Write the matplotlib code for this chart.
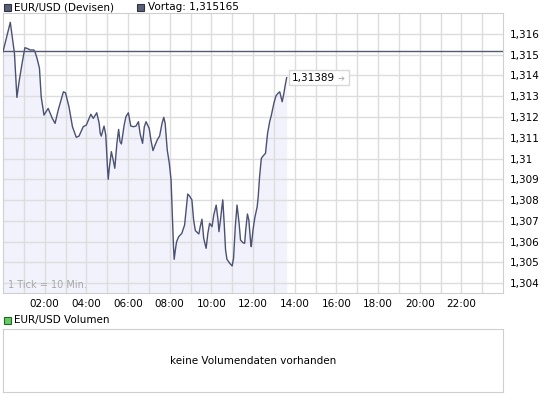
import matplotlib.pyplot as plt
import matplotlib.patches as patches

# Kursdaten EUR/USD (Minuten seit 00:00, Kurs)
minuten = [0, 21, 33, 40, 47, 55, 63, 69, 79, 89, 92, 98, 105, 110, 118, 130, 142, 150,
           159, 174, 180, 190, 200, 211, 219, 231, 240, 253, 260, 270, 277, 280, 283,
           291, 296, 301, 303, 306, 312, 317, 322, 328, 333, 337, 341, 349, 354, 361,
           368, 376, 383, 390, 395, 402, 407, 412, 421, 426, 432, 438, 445, 451, 458,
           463, 467, 473, 479, 484, 487, 489, 491, 493, 497, 500, 506, 515, 523, 527,
           532, 537, 544, 549, 554, 564, 568, 573, 578, 585, 590, 595, 602, 607, 614,
           619, 622, 627, 630, 633, 637, 641, 645, 653, 660, 664, 669, 674, 680, 684,
           691, 696, 699, 704, 708, 713, 715, 720, 725, 732, 735, 739, 744, 749, 756,
           762, 768, 773, 780, 786, 792, 797, 804, 809, 812, 817]
kurs = [1.31514, 1.31655, 1.31506, 1.31294, 1.31377, 1.31458, 1.31533, 1.31530, 1.31522,
        1.31522, 1.31514, 1.31482, 1.31434, 1.31297, 1.31209, 1.31241, 1.31193, 1.31169,
        1.31233, 1.31321, 1.31316, 1.31249, 1.31153, 1.31102, 1.31108, 1.31153, 1.31161,
        1.31213, 1.31193, 1.31220, 1.31169, 1.31121, 1.31108, 1.31156, 1.31113, 1.30953,
        1.30900, 1.30953, 1.31033, 1.30996, 1.30953, 1.31073, 1.31140, 1.31081, 1.31070,
        1.31161, 1.31201, 1.31220, 1.31156, 1.31153, 1.31156, 1.31177, 1.31118, 1.31073,
        1.31153, 1.31177, 1.31145, 1.31089, 1.31038, 1.31065, 1.31092, 1.31108, 1.31169,
        1.31198, 1.31169, 1.31041, 1.30977, 1.30897, 1.30761, 1.30672, 1.30576, 1.30515,
        1.30568, 1.30600, 1.30624, 1.30640, 1.30680, 1.30744, 1.30829, 1.30820, 1.30801,
        1.30704, 1.30653, 1.30637, 1.30672, 1.30708, 1.30616, 1.30568, 1.30640, 1.30688,
        1.30672, 1.30728, 1.30776, 1.30708, 1.30648, 1.30713, 1.30761, 1.30801, 1.30688,
        1.30560, 1.30515, 1.30496, 1.30483, 1.30520, 1.30672, 1.30776, 1.30688, 1.30608,
        1.30595, 1.30592, 1.30656, 1.30733, 1.30704, 1.30600, 1.30576, 1.30656, 1.30713,
        1.30768, 1.30816, 1.30913, 1.31001, 1.31012, 1.31025, 1.31121, 1.31177, 1.31209,
        1.31265, 1.31301, 1.31314, 1.31321, 1.31273, 1.31314, 1.31345, 1.31389]

vortag = 1.315165
letzter_kurs = "1,31389"

y_ticks = [1.304, 1.305, 1.306, 1.307, 1.308, 1.309, 1.310, 1.311, 1.312, 1.313, 1.314, 1.315, 1.316]
y_labels = ["1,304", "1,305", "1,306", "1,307", "1,308", "1,309", "1,31",
            "1,311", "1,312", "1,313", "1,314", "1,315", "1,316"]
x_labels = ["02:00", "04:00", "06:00", "08:00", "10:00", "12:00",
            "14:00", "16:00", "18:00", "20:00", "22:00"]

plt.rcParams['font.family'] = ['DejaVu Sans']
linie = '#4b5173'
gitter = '#dddddd'
rahmen = '#cfcfcf'

fig = plt.figure(figsize=(5.45, 3.95), dpi=100)
W, H = 545, 395

# Hauptchart
ax = fig.add_axes([3 / W, 1 - 293 / H, 500 / W, 280 / H])
ymin, ymax = 1.30353, 1.31700
stunden = [m / 60 for m in minuten]
ax.fill_between(stunden, kurs, ymin, color='#f2f2fd', lw=0, zorder=1)
ax.plot(stunden, kurs, color=linie, lw=1, zorder=3)
ax.axhline(vortag, color='#555a70', lw=1, zorder=4)

ax.set_xlim(0, 24)
ax.set_ylim(ymin, ymax)
for h in range(1, 24):
    ax.axvline(h, color=gitter, lw=1, zorder=2)
for y in y_ticks:
    ax.axhline(y, color=gitter, lw=1, zorder=2)

ax.set_xticks(range(2, 24, 2))
ax.set_xticklabels(x_labels, fontsize=7.5)
ax.set_yticks(y_ticks)
ax.set_yticklabels(y_labels, fontsize=7.5)
ax.yaxis.tick_right()
ax.tick_params(length=0, pad=5)
ax.tick_params(axis='x', pad=4)
for s in ax.spines.values():
    s.set_color(rahmen)

ax.text(0.25, 1.30378, "1 Tick = 10 Min.", fontsize=7, color='#a8a8a8', zorder=5)

# Kursbox mit Pfeil
box_x0 = stunden[-1] + 0.12
ax.add_patch(patches.Rectangle((box_x0, kurs[-1] - 0.00037), 2.85, 0.00076,
                               fc='white', ec='#d8d8d8', lw=1, zorder=6))
ax.text(box_x0 + 0.15, kurs[-1], letzter_kurs, fontsize=7.5, va='center', ha='left', zorder=7)
ax.text(box_x0 + 2.3, kurs[-1], "➔", fontsize=6, color='#b0b0b0', va='center', zorder=7)

# Legende oben
fig.patches.append(patches.Rectangle((4 / W, 1 - 11 / H), 7 / W, 7 / H,
                                     transform=fig.transFigure, fc='#5a5e78', ec='#333340', lw=0.8))
fig.text(14 / W, 1 - 7.5 / H, "EUR/USD (Devisen)", fontsize=7.5, va='center')
fig.patches.append(patches.Rectangle((137 / W, 1 - 11 / H), 7 / W, 7 / H,
                                     transform=fig.transFigure, fc='#5a5e78', ec='#333340', lw=0.8))
fig.text(148 / W, 1 - 7.5 / H, "Vortag: 1,315165", fontsize=7.5, va='center')

# Volumen
fig.patches.append(patches.Rectangle((4 / W, 1 - 324 / H), 7 / W, 7 / H,
                                     transform=fig.transFigure, fc='#66cc66', ec='#226622', lw=0.8))
fig.text(14 / W, 1 - 320.5 / H, "EUR/USD Volumen", fontsize=7.5, va='center')

ax2 = fig.add_axes([3 / W, 1 - 392 / H, 500 / W, 63 / H])
ax2.set_xticks([])
ax2.set_yticks([])
for s in ax2.spines.values():
    s.set_color(rahmen)
ax2.text(0.5, 0.5, "keine Volumendaten vorhanden", fontsize=7.5, ha='center', va='center',
         transform=ax2.transAxes)

plt.savefig("out.png", dpi=100)
